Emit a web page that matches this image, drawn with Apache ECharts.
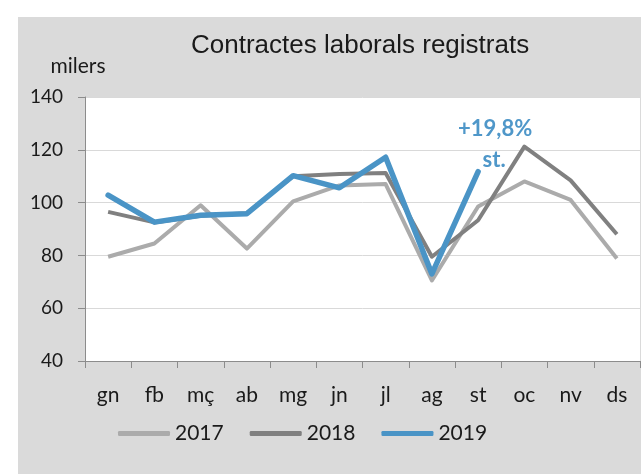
<!DOCTYPE html>
<html>
<head>
<meta charset="utf-8">
<script src="https://cdn.jsdelivr.net/npm/echarts@6/dist/echarts.min.js"></script>
<style>
  html, body { margin: 0; padding: 0; background: #fff; }
  #chart { width: 641px; height: 474px; }
</style>
</head>
<body>
<div id="chart"></div>
<script>
// mesos
var months = ['gn', 'fb', 'mç', 'ab', 'mg', 'jn', 'jl', 'ag', 'st', 'oc', 'nv', 'ds'];
// milers de contractes
var data2017 = [79.5, 84.5, 99, 82.6, 100.5, 106.5, 107, 70.5, 98.5, 108, 101, 78.8];
var data2018 = [96.5, 92.5, 95, 96, 110, 110.8, 111.2, 79.5, 93.3, 121.2, 108.4, 88];
var data2019 = [102.8, 92.6, 95.2, 95.8, 110.2, 105.6, 117.2, 73, 111.7];
var yTicks = [40, 60, 80, 100, 120, 140];

var myChart = echarts.init(document.getElementById('chart'));

var option = {
  backgroundColor: '#ffffff',
  animation: false,
  graphic: [{
    type: 'rect',
    z: -10,
    shape: { x: 18, y: 17, width: 623, height: 457 },
    style: { fill: '#dadada' },
    silent: true
  }],
  title: {
    text: 'Contractes laborals registrats',
    left: 186,
    top: 28,
    textStyle: {
      fontFamily: 'Liberation Sans',
      fontSize: 26,
      fontWeight: 'normal',
      color: '#1a1a1a'
    }
  },
  grid: {
    left: 85,
    right: 1,
    top: 97,
    bottom: 113,
    show: true,
    backgroundColor: '#ffffff',
    borderWidth: 0
  },
  legend: {
    left: 113,
    top: 418,
    itemWidth: 52,
    itemHeight: 5,
    itemGap: 26,
    textStyle: { fontFamily: 'Lato', fontSize: 21, color: '#1a1a1a' },
    data: [
      { name: '2017', icon: 'roundRect', itemStyle: { color: '#ababab' } },
      { name: '2018', icon: 'roundRect', itemStyle: { color: '#808080' } },
      { name: '2019', icon: 'roundRect', itemStyle: { color: '#4a94c6' } }
    ]
  },
  xAxis: {
    type: 'category',
    data: months,
    boundaryGap: true,
    axisLine: { lineStyle: { color: '#8c8c8c', width: 1 } },
    axisTick: { show: true, length: 7, lineStyle: { color: '#8c8c8c' } },
    axisLabel: {
      margin: 24,
      fontFamily: 'Lato',
      fontSize: 21,
      color: '#1a1a1a'
    }
  },
  yAxis: {
    type: 'value',
    min: yTicks[0],
    max: yTicks[yTicks.length - 1],
    interval: 20,
    name: 'milers',
    nameLocation: 'end',
    nameGap: 20,
    nameTextStyle: {
      fontFamily: 'Lato',
      fontSize: 21,
      color: '#1a1a1a',
      padding: [0, 14, 0, 0]
    },
    axisLine: { show: true, lineStyle: { color: '#8c8c8c', width: 1 } },
    axisTick: { show: true, length: 7, lineStyle: { color: '#8c8c8c' } },
    axisLabel: {
      margin: 22,
      fontFamily: 'Lato',
      fontSize: 19,
      color: '#1a1a1a'
    },
    splitLine: { lineStyle: { color: '#d9d9d9', width: 1 } }
  },
  series: [
    {
      name: '2017',
      type: 'line',
      data: data2017,
      symbol: 'none',
      lineStyle: { color: '#ababab', width: 4, join: 'round' },
      itemStyle: { color: '#ababab' }
    },
    {
      name: '2018',
      type: 'line',
      data: data2018,
      symbol: 'none',
      lineStyle: { color: '#808080', width: 4, join: 'round' },
      itemStyle: { color: '#808080' }
    },
    {
      name: '2019',
      type: 'line',
      data: data2019,
      symbol: 'none',
      lineStyle: { color: '#4a94c6', width: 5.5, cap: 'round', join: 'round' },
      itemStyle: { color: '#4a94c6' },
      markPoint: {
        symbol: 'circle',
        symbolSize: 1,
        itemStyle: { color: 'rgba(0,0,0,0)' },
        label: {
          show: true,
          position: 'inside',
          fontFamily: 'Lato',
          fontWeight: 'bold',
          fontSize: 22,
          color: '#4f97c9'
        },
        data: [
          { coord: ['st', data2019[8]], value: '+19,8%', label: { formatter: '+19,8%', offset: [17, -43] } },
          { coord: ['st', data2019[8]], value: 'st.', label: { formatter: 'st.', offset: [16, -12] } }
        ]
      }
    }
  ]
};

myChart.setOption(option);
</script>
</body>
</html>
